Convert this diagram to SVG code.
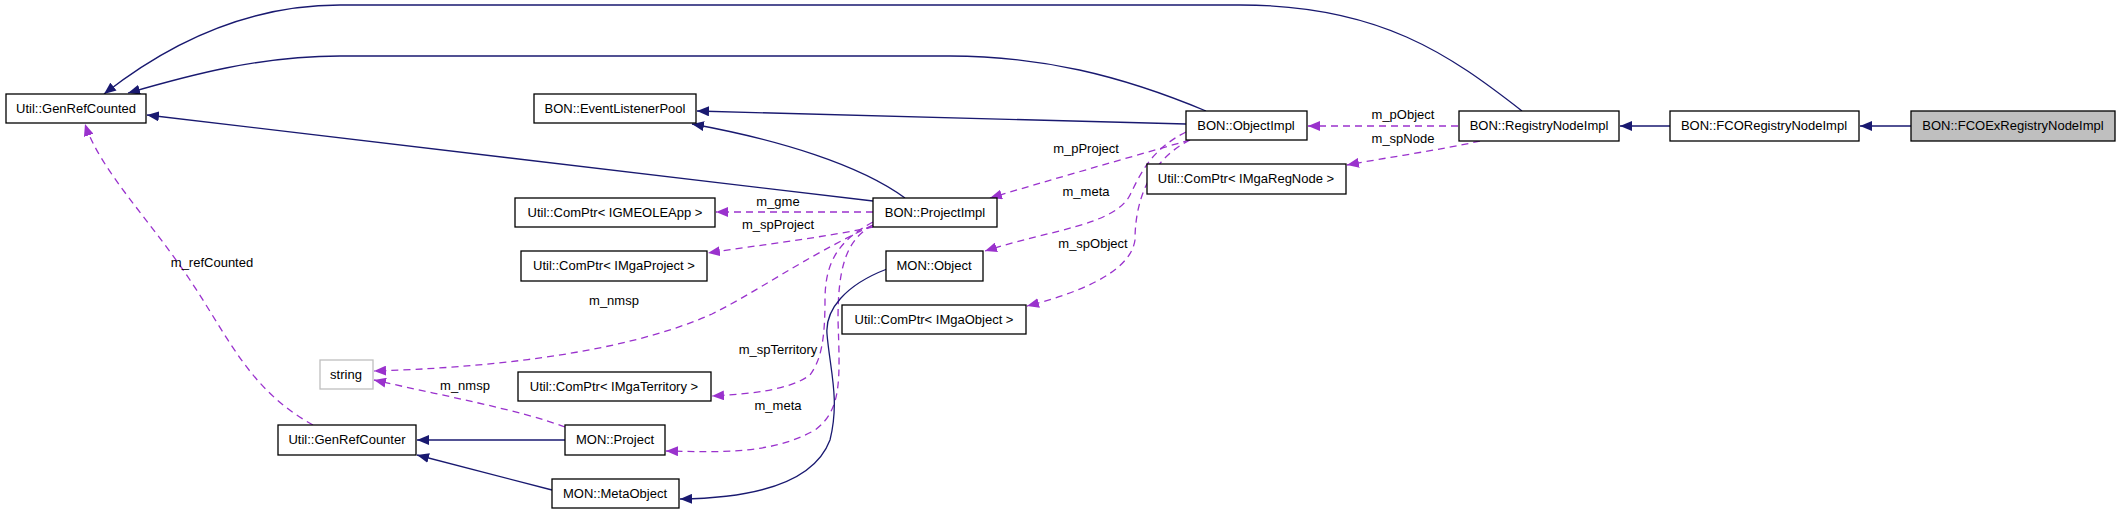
<svg xmlns="http://www.w3.org/2000/svg" width="2120" height="512" viewBox="0 0 2120 512">
<style>
.n rect{fill:#fff;stroke:#000;stroke-width:1.3}
.n text{font-family:"Liberation Sans",Arial,sans-serif;font-size:13px;text-anchor:middle;fill:#000}
.s{fill:none;stroke:#191970;stroke-width:1.3;marker-end:url(#as)}
.d{fill:none;stroke:#9a32cd;stroke-width:1.3;stroke-dasharray:7,5;marker-end:url(#ad)}
.l{font-family:"Liberation Sans",Arial,sans-serif;font-size:13px;text-anchor:middle;fill:#000}
</style>
<defs>
<marker id="as" markerWidth="12" markerHeight="10" refX="12" refY="5" orient="auto" markerUnits="userSpaceOnUse"><path d="M0,0L12,5L0,10z" fill="#191970"/></marker>
<marker id="ad" markerWidth="12" markerHeight="10" refX="12" refY="5" orient="auto" markerUnits="userSpaceOnUse"><path d="M0,0L12,5L0,10z" fill="#9a32cd"/></marker>
</defs>
<g id="edges">
<path class="s" d="M1522,111 C1450,55 1380,5 1240,5 L340,5 C240,5 160,50 104,94"/>
<path class="s" d="M1206,111 C1120,75 1040,56 950,56 L340,56 C260,56 190,75 128,93"/>
<path class="s" d="M873,201 L147,115"/>
<path class="s" d="M1186,124 L697,111"/>
<path class="s" d="M905,198 C860,165 780,140 692,124"/>
<path class="d" d="M1190,140 C1120,160 1050,180 990,198"/>
<path class="d" d="M1458,126 L1308,126"/>
<path class="d" d="M1480,141 C1440,150 1390,157 1347,165"/>
<path class="d" d="M1186,132 C1150,150 1140,175 1130,195 C1115,225 1050,230 985,251"/>
<path class="d" d="M1190,140 C1150,160 1135,200 1135,240 C1130,275 1070,295 1027,306"/>
<path class="d" d="M873,212 L716,212"/>
<path class="d" d="M873,227 C820,238 760,245 708,253"/>
<path class="d" d="M873,225 C800,260 760,290 712,314 C620,355 480,368 374,371"/>
<path class="d" d="M873,222 C840,240 825,260 825,300 C825,340 821,360 810,375 C790,390 750,394 712,396"/>
<path class="d" d="M873,225 C845,240 838,270 838,320 C840,380 842,410 815,430 C770,455 720,452 666,451"/>
<path class="d" d="M565,427 C520,410 440,395 374,380"/>
<path class="d" d="M313,425 C250,390 230,340 190,280 C150,220 100,170 85,124"/>
<path class="s" d="M565,440 L417,440"/>
<path class="s" d="M552,490 L417,455"/>
<path class="s" d="M887,269 C845,285 825,310 827,334 C830,370 840,400 830,440 C815,480 760,498 680,499"/>
<path class="s" d="M1670,126 L1620,126"/>
<path class="s" d="M1911,126 L1860,126"/>
</g>
<g id="labels">
<text class="l" x="1086" y="153">m_pProject</text>
<text class="l" x="1403" y="119">m_pObject</text>
<text class="l" x="1403" y="143">m_spNode</text>
<text class="l" x="1086" y="196">m_meta</text>
<text class="l" x="1093" y="248">m_spObject</text>
<text class="l" x="778" y="206">m_gme</text>
<text class="l" x="778" y="229">m_spProject</text>
<text class="l" x="614" y="305">m_nmsp</text>
<text class="l" x="778" y="354">m_spTerritory</text>
<text class="l" x="778" y="410">m_meta</text>
<text class="l" x="465" y="390">m_nmsp</text>
<text class="l" x="212" y="267">m_refCounted</text>
</g>
<g id="GenRefCounted" class="n"><rect x="6" y="94" width="140" height="29"/><text x="76" y="113">Util::GenRefCounted</text></g>
<g id="EventListenerPool" class="n"><rect x="534" y="94" width="162" height="29"/><text x="615" y="113">BON::EventListenerPool</text></g>
<g id="IGMEOLEApp" class="n"><rect x="515" y="198" width="200" height="29"/><text x="615" y="217">Util::ComPtr&lt; IGMEOLEApp &gt;</text></g>
<g id="IMgaProject" class="n"><rect x="521" y="251" width="186" height="30"/><text x="614" y="270">Util::ComPtr&lt; IMgaProject &gt;</text></g>
<g id="string" class="n"><rect x="320" y="360" width="53" height="29" style="stroke:#bfbfbf"/><text x="346" y="379">string</text></g>
<g id="IMgaTerritory" class="n"><rect x="518" y="372" width="193" height="29"/><text x="614" y="391">Util::ComPtr&lt; IMgaTerritory &gt;</text></g>
<g id="GenRefCounter" class="n"><rect x="278" y="425" width="138" height="30"/><text x="347" y="444">Util::GenRefCounter</text></g>
<g id="MONProject" class="n"><rect x="565" y="425" width="100" height="30"/><text x="615" y="444">MON::Project</text></g>
<g id="MetaObject" class="n"><rect x="552" y="479" width="127" height="29"/><text x="615" y="498">MON::MetaObject</text></g>
<g id="ProjectImpl" class="n"><rect x="873" y="198" width="124" height="29"/><text x="935" y="217">BON::ProjectImpl</text></g>
<g id="ObjectImpl" class="n"><rect x="1186" y="111" width="121" height="29"/><text x="1246" y="130">BON::ObjectImpl</text></g>
<g id="IMgaRegNode" class="n"><rect x="1147" y="164" width="199" height="30"/><text x="1246" y="183">Util::ComPtr&lt; IMgaRegNode &gt;</text></g>
<g id="MONObject" class="n"><rect x="886" y="251" width="97" height="30"/><text x="934" y="270">MON::Object</text></g>
<g id="IMgaObject" class="n"><rect x="842" y="305" width="184" height="29"/><text x="934" y="324">Util::ComPtr&lt; IMgaObject &gt;</text></g>
<g id="RegistryNodeImpl" class="n"><rect x="1459" y="111" width="160" height="30"/><text x="1539" y="130">BON::RegistryNodeImpl</text></g>
<g id="FCORegistryNodeImpl" class="n"><rect x="1670" y="111" width="189" height="30"/><text x="1764" y="130">BON::FCORegistryNodeImpl</text></g>
<g id="FCOExRegistryNodeImpl" class="n"><rect x="1911" y="111" width="204" height="30" style="fill:#bfbfbf"/><text x="2013" y="130">BON::FCOExRegistryNodeImpl</text></g>
</svg>
